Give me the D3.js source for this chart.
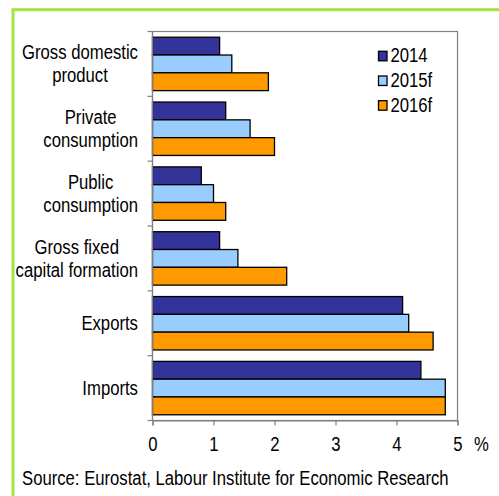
<!DOCTYPE html>
<html>
<head>
<meta charset="utf-8">
<script src="https://cdn.jsdelivr.net/npm/d3@7"></script>
<style>
  html, body { margin: 0; padding: 0; background: #ffffff; }
  svg { display: block; }
  text { font-family: "Liberation Sans", Arial, sans-serif; fill: #000; }
</style>
</head>
<body>
<svg id="chart" width="499" height="496"></svg>
<script>
// ---- data ----
const categories = [
  ["Gross domestic", "product"],
  ["Private", "consumption"],
  ["Public", "consumption"],
  ["Gross fixed", "capital formation"],
  ["Exports"],
  ["Imports"]
];
const seriesNames = ["2014", "2015f", "2016f"];
const values2014  = [1.1, 1.2, 0.8, 1.1, 4.1, 4.4];
const values2015f = [1.3, 1.6, 1.0, 1.4, 4.2, 4.8];
const values2016f = [1.9, 2.0, 1.2, 2.2, 4.6, 4.8];
const xTicks = [0, 1, 2, 3, 4, 5];
const xUnit = "%";
const sourceText = "Source: Eurostat, Labour Institute for Economic Research";

// ---- style ----
const colors = ["#333399", "#99ccff", "#ff9900"];
const SX = 0.835;      // horizontal text compression
const FS = 20;         // font size

const svg = d3.select("#chart");
const catKeys = categories.map((c, i) => i);
const seriesValues = [values2014, values2015f, values2016f];

// green frame
svg.append("rect")
  .attr("x", 13).attr("y", 9.7)
  .attr("width", 600).attr("height", 600)
  .attr("fill", "none")
  .attr("stroke", "#a0e63c")
  .attr("stroke-width", 3);

const plot = { left: 152.5, right: 457.5, top: 31.5, bottom: 420.5 };

const x = d3.scaleLinear().domain([0, 5]).range([plot.left, plot.right]);
const y = d3.scaleBand().domain(catKeys).range([plot.top, plot.bottom]).paddingInner(0).paddingOuter(0);
const ySub = d3.scaleBand().domain(seriesNames).range([0, y.bandwidth()]).paddingInner(0).paddingOuter(0.321);

// plot frame (gray)
svg.append("rect")
  .attr("x", plot.left).attr("y", plot.top)
  .attr("width", plot.right - plot.left).attr("height", plot.bottom - plot.top)
  .attr("fill", "#ffffff")
  .attr("stroke", "#808080").attr("stroke-width", 1.2);

// bars
const groups = svg.append("g").selectAll("g")
  .data(catKeys).join("g")
  .attr("transform", d => `translate(0,${y(d)})`);

groups.selectAll("rect")
  .data(ci => seriesNames.map((s, si) => ({ s, si, v: seriesValues[si][ci] })))
  .join("rect")
  .attr("x", x(0))
  .attr("y", d => ySub(d.s))
  .attr("width", d => x(d.v) - x(0))
  .attr("height", ySub.bandwidth())
  .attr("fill", d => colors[d.si])
  .attr("stroke", "#000")
  .attr("stroke-width", 1.3);

// y axis (left) with ticks at band boundaries
const yAxisG = svg.append("g");
yAxisG.append("line")
  .attr("x1", plot.left).attr("x2", plot.left)
  .attr("y1", plot.top).attr("y2", plot.bottom)
  .attr("stroke", "#808080").attr("stroke-width", 1.2);
const boundaries = catKeys.map(k => y(k)).concat([plot.bottom]);
yAxisG.selectAll("line.tick").data(boundaries).join("line")
  .attr("class", "tick")
  .attr("x1", plot.left - 5).attr("x2", plot.left)
  .attr("y1", d => d).attr("y2", d => d)
  .attr("stroke", "#808080").attr("stroke-width", 1.2);

// x axis
const xAxis = d3.axisBottom(x).tickValues(xTicks).tickSize(5).tickFormat(d3.format("d"));
const xAxisG = svg.append("g")
  .attr("transform", `translate(0,${plot.bottom})`)
  .call(xAxis);
xAxisG.select(".domain").attr("stroke", "#808080").attr("stroke-width", 1.2);
xAxisG.selectAll(".tick line").attr("stroke", "#808080").attr("stroke-width", 1.2);
xAxisG.selectAll(".tick text")
  .attr("font-size", FS)
  .attr("font-family", '"Liberation Sans", Arial, sans-serif')
  .attr("fill", "#000")
  .attr("y", 0).attr("dy", 0)
  .attr("transform", `translate(0,30.5) scale(${SX},1)`);

svg.append("text")
  .attr("transform", `translate(481.5,451) scale(${SX},1)`)
  .attr("text-anchor", "middle")
  .attr("font-size", FS)
  .text(xUnit);

// category labels
const labelRight = 138;
const lineH = 23;
catKeys.forEach(ci => {
  const lines = categories[ci];
  const cy = y(ci) + y.bandwidth() / 2;
  const tmp = lines.map(l => {
    const t = svg.append("text").attr("font-size", FS).text(l);
    const w = t.node().getComputedTextLength() * SX;
    t.remove();
    return w;
  });
  const maxW = d3.max(tmp);
  const cx = labelRight - maxW / 2;
  const firstBase = cy + 7 - (lines.length - 1) * lineH / 2;
  lines.forEach((l, li) => {
    svg.append("text")
      .attr("transform", `translate(${cx},${firstBase + li * lineH}) scale(${SX},1)`)
      .attr("text-anchor", "middle")
      .attr("font-size", FS)
      .text(l);
  });
});

// legend
const legend = svg.append("g");
seriesNames.forEach((s, i) => {
  const base = 62.3 + i * 24.7;
  legend.append("rect")
    .attr("x", 378.5).attr("y", base - 11)
    .attr("width", 8.5).attr("height", 9.5)
    .attr("fill", colors[i])
    .attr("stroke", "#000").attr("stroke-width", 1.3);
  legend.append("text")
    .attr("transform", `translate(390.5,${base}) scale(${SX},1)`)
    .attr("font-size", FS)
    .text(s);
});

// source
svg.append("text")
  .attr("transform", `translate(22,484.5) scale(${SX},1)`)
  .attr("font-size", FS)
  .text(sourceText);
</script>
</body>
</html>
